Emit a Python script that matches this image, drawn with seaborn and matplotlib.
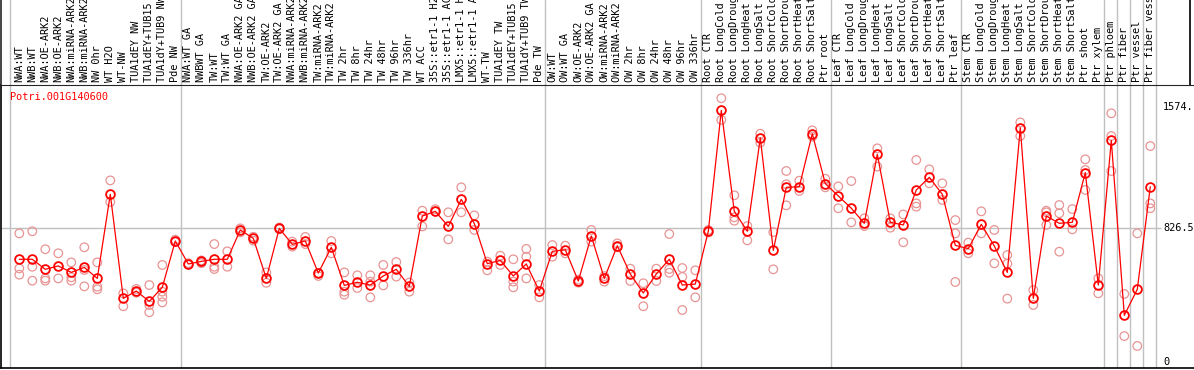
import numpy as np
import pandas as pd
import matplotlib
matplotlib.use("Agg")
import matplotlib.pyplot as plt
import seaborn as sns

# sample labels, grouped by tissue / experiment
labels_nw = ["NWA:WT", "NWB:WT", "NWA:OE-ARK2", "NWB:OE-ARK2", "NWA:miRNA-ARK2",
             "NWB:miRNA-ARK2", "NW 0hr", "WT H2O", "WT-NW", "TUA1dEY NW",
             "TUA1dEY+TUB15 NW", "TUA1dY+TUB9 NW", "Pde NW"]
labels_tw = ["NWA:WT GA", "NWBWT GA", "TW:WT", "TW:WT GA", "NWA:OE-ARK2 GA",
             "NWB:OE-ARK2 GA", "TW:OE-ARK2", "TW:OE-ARK2 GA", "NWA:miRNA-ARK2 GA",
             "NWB:miRNA-ARK2 GA", "TW:miRNA-ARK2", "TW:miRNA-ARK2 GA", "TW 2hr", "TW 8hr",
             "TW 24hr", "TW 48hr", "TW 96hr", "TW 336hr", "WT ACC", "35S::etr1-1 H2O",
             "35S::etr1-1 ACC", "LMX5::etr1-1 H2O", "LMX5::etr1-1 ACC", "WT-TW",
             "TUA1dEY TW", "TUA1dEY+TUB15 TW", "TUA1dY+TUB9 TW", "Pde TW"]
labels_ow = ["OW:WT", "OW:WT GA", "OW:OE-ARK2", "OW:OE-ARK2 GA", "OW:miRNA-ARK2",
             "OW:miRNA-ARK2 GA", "OW 2hr", "OW 8hr", "OW 24hr", "OW 48hr", "OW 96hr",
             "OW 336hr"]
labels_root = ["Root CTR", "Root LongCold", "Root LongDrought", "Root LongHeat",
               "Root LongSalt", "Root ShortCold", "Root ShortDrought", "Root ShortHeat",
               "Root ShortSalt", "Ptr root"]
labels_leaf = ["Leaf CTR", "Leaf LongCold", "Leaf LongDrought", "Leaf LongHeat",
               "Leaf LongSalt", "Leaf ShortCold", "Leaf ShortDrought", "Leaf ShortHeat",
               "Leaf ShortSalt", "Ptr leaf"]
labels_stem = ["Stem CTR", "Stem LongCold", "Stem LongDrought", "Stem LongHeat",
               "Stem LongSalt", "Stem ShortCold", "Stem ShortDrought", "Stem ShortHeat",
               "Stem ShortSalt", "Ptr shoot", "Ptr xylem"]
labels_ptr = ["Ptr phloem", "Ptr fiber", "Ptr vessel", "Ptr fiber vessel"]

groups = [labels_nw, labels_tw, labels_ow, labels_root, labels_leaf, labels_stem,
          [labels_ptr[0]], [labels_ptr[1]], [labels_ptr[2]], [labels_ptr[3]]]
labels = [lab for g in groups for lab in g]

# mean expression per sample
means = [634, 634, 572, 593, 553, 584, 516, 1035, 393, 438, 374, 461, 747,
         605, 621, 634, 634, 815, 763, 516, 825, 726, 747, 549, 708, 473, 492, 475,
         531, 572, 467, 901, 930, 837, 1004, 854, 607, 627, 531, 605, 438,
         683, 693, 500, 778, 516, 718, 543, 426, 543, 634, 475, 481,
         807, 1553, 930, 807, 1383, 689, 1078, 1082, 1409, 1101,
         1025, 949, 856, 1282, 862, 846, 1062, 1140, 1035, 720,
         700, 850, 716, 553, 1446, 393, 901, 856, 862, 1169, 475,
         1368, 288, 449, 1082]

# individual replicates
reps = [[794, 578, 539], [807, 588, 502], [696, 516, 502], [671, 516], [615, 523, 502],
        [708, 568, 467], [615, 465, 449], [1121, 988], [424, 344], [451, 428],
        [475, 352, 307], [599, 434, 403, 368], [755, 740],
        [610, 600], [627, 615, 610], [728, 588, 574], [683, 588], [825, 800], [773, 749],
        [553, 489], [830, 820], [743, 712], [772, 728], [549, 531], [747, 671],
        [553, 434, 415], [535, 457], [535, 496, 399], [599, 473], [617, 527], [490, 434],
        [934, 837], [943, 928], [924, 757], [1078, 924], [905, 815], [619, 566], [656, 599],
        [634, 496, 461], [698, 650, 516], [475, 399],
        [722, 650], [718, 671], [508, 490], [815, 743], [496, 530], [732, 708], [576, 500],
        [486, 344], [576, 500], [790, 574, 551], [580, 525, 321], [566, 399],
        [815, 800], [1628, 1494], [1029, 893, 872], [839, 751], [1409, 1354], [802, 572],
        [1179, 1097, 967], [1119, 1056], [1430, 1391], [1131, 1078],
        [1084, 949], [1117, 862], [887, 839], [1319, 1206], [887, 829], [911, 739],
        [1247, 979, 959], [1189, 1103], [1103, 1000], [876, 794, 494],
        [737, 671], [930, 794], [815, 609], [660, 607, 391], [1479, 1395], [444, 352],
        [934, 924, 846], [969, 918, 681], [944, 819], [1251, 1185, 1062], [516, 424],
        [1535, 1395, 1179], [420, 160], [794, 99], [1333, 979, 949]]

gene = "Potri.001G140600"
ref_ticks = [1574, 826.5, 0]
ref_tick_text = ["1574.", "826.5", "0"]

mean_df = pd.DataFrame({"pos": np.arange(len(means)), "value": means})
rep_df = pd.DataFrame([(i, v) for i, r in enumerate(reps) for v in r], columns=["pos", "value"])

sns.set_style("white")
plt.rcParams["font.family"] = ["DejaVu Sans Mono"]
fs = 7.4

W, H = 1194, 370
fig = plt.figure(figsize=(W / 100, H / 100), dpi=100)

# pixel -> data mapping for x: point i sits at 19.3 + 13 * i
def px2i(px):
    return (px - 19.3) / 13.0

xlim = (px2i(1), px2i(W))
top_px, bot_px = 85, 368
ax = fig.add_axes([1 / W, (H - bot_px) / H, (W - 1) / W, (bot_px - top_px) / H])
lab_ax = fig.add_axes([1 / W, (H - top_px) / H, (W - 1) / W, top_px / H])

ylim = ((362 - bot_px) * 1574 / 255, (362 - top_px) * 1574 / 255)

# separators between groups
sizes = [len(g) for g in groups]
bounds = [px2i(10)] + [b - 1 + 0.4 for b in np.cumsum(sizes)]
for a in (ax, lab_ax):
    for b in bounds:
        a.axvline(b, color="#c0c0c0", lw=1.0, zorder=0)

ax.hlines(826.5, xlim[0], px2i(1161), color="#c0c0c0", lw=1.0, zorder=0)

sns.scatterplot(data=rep_df, x="pos", y="value", ax=ax, marker="o", s=38,
                facecolors="none", edgecolor="#e89494", linewidth=0.9, zorder=2)
sns.lineplot(data=mean_df, x="pos", y="value", ax=ax, color="red", lw=0.9,
             marker="o", markersize=6.3, markerfacecolor="none",
             markeredgecolor="red", markeredgewidth=1.3, zorder=3)

ax.set_xlim(*xlim)
ax.set_ylim(*ylim)
ax.set_xticks([])
ax.set_yticks([])
ax.set_xlabel("")
ax.set_ylabel("")
for side in ("right",):
    ax.spines[side].set_visible(False)
for side in ("left", "bottom", "top"):
    ax.spines[side].set_color("black")
    ax.spines[side].set_linewidth(1.2)

ax.text(px2i(10), (362 - 97) * 1574 / 255, gene, color="red", fontsize=fs,
        va="center", ha="left")
for v, t in zip(ref_ticks, ref_tick_text):
    ax.text(px2i(1163), v, t, fontsize=fs, va="center", ha="left", color="black")

# sample labels, clipped at the top of the figure
lab_ax.set_xlim(*xlim)
lab_ax.set_ylim(0, top_px)
lab_ax.set_xticks([])
lab_ax.set_yticks([])
lab_ax.spines["top"].set_visible(False)
lab_ax.spines["right"].set_visible(False)
lab_ax.spines["left"].set_linewidth(1.2)
lab_ax.axvline(px2i(1190), color="black", lw=1.2)
for i, lab in enumerate(labels):
    t = lab_ax.text(i, 2.5, lab, rotation=90, ha="center", va="bottom",
                    fontsize=fs, color="black")
    t.set_clip_on(True)

fig.savefig("out.png", dpi=100)
